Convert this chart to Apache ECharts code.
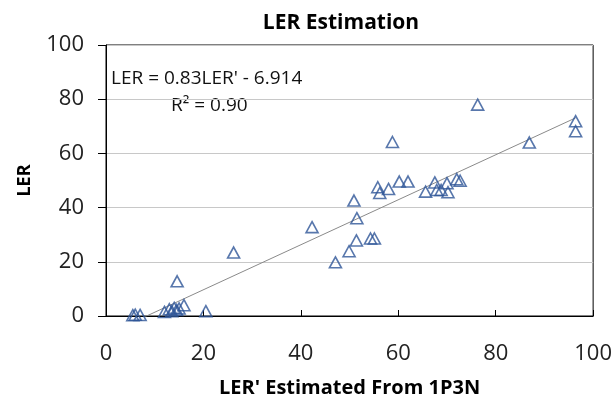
<!DOCTYPE html>
<html>
<head>
<meta charset="utf-8">
<script src="https://cdn.jsdelivr.net/npm/echarts@6/dist/echarts.min.js"></script>
<style>
html,body{margin:0;padding:0;background:#fff;}
#c{width:615px;height:403px;}
</style>
</head>
<body>
<div id="c"></div>
<script>
// Data
var estimatedLER = [5.5, 6.0, 7.0, 12.0, 13.0, 13.5, 14.0, 14.5, 15.0, 16.0, 14.6, 20.5, 26.2,
  42.3, 47.1, 49.9, 50.9, 51.4, 51.5, 54.3, 55.1, 55.8, 56.2, 58.0, 58.8, 60.2, 62.0,
  65.6, 67.5, 67.9, 68.8, 70.0, 70.2, 72.0, 72.7, 76.3, 86.9, 96.4, 96.4];
var actualLER = [0.3, 0.5, 0.4, 1.5, 2.5, 1.8, 3.0, 2.2, 2.8, 4.0, 12.8, 1.8, 23.4,
  32.8, 19.8, 23.9, 42.6, 27.9, 36.1, 28.6, 28.6, 47.5, 45.4, 46.9, 64.2, 49.6, 49.6,
  45.9, 49.3, 46.5, 46.5, 49.0, 45.7, 50.5, 49.9, 78.0, 64.0, 71.9, 68.2];
var trendSlope = 0.83;
var trendIntercept = -6.914;
var rSquared = '0.90';
var xTicks = [0, 20, 40, 60, 80, 100];
var yTicks = [0, 20, 40, 60, 80, 100];

var points = estimatedLER.map(function (x, i) { return [x, actualLER[i]]; });
var xMin = Math.min.apply(null, estimatedLER), xMax = Math.max.apply(null, estimatedLER);
var trend = [[xMin, trendSlope * xMin + trendIntercept], [xMax, trendSlope * xMax + trendIntercept]];

var FONT = 'Open Sans';
var chart = echarts.init(document.getElementById('c'), null, {renderer: 'canvas'});
chart.setOption({
  animation: false,
  backgroundColor: '#fff',
  textStyle: {fontFamily: FONT},
  title: {
    text: 'LER Estimation', left: 336, top: 8, textAlign: 'center',
    textStyle: {fontFamily: FONT, fontWeight: 'bold', fontSize: 21, color: '#000'}
  },
  grid: {left: 106, right: 18, top: 45, bottom: 86, show: true, borderColor: '#000', borderWidth: 1},
  xAxis: {
    type: 'value', min: xTicks[0], max: xTicks[xTicks.length - 1], interval: 20,
    name: "LER' Estimated From 1P3N", nameLocation: 'middle', nameGap: 62,
    nameTextStyle: {fontFamily: FONT, fontWeight: 'bold', fontSize: 20, color: '#000'},
    axisLine: {lineStyle: {color: '#000', width: 1}},
    axisTick: {show: true, inside: true, length: 6, lineStyle: {color: '#000'}},
    axisLabel: {fontSize: 22, color: '#222', margin: 27},
    splitLine: {show: false}
  },
  yAxis: {
    type: 'value', min: yTicks[0], max: yTicks[yTicks.length - 1], interval: 20,
    name: 'LER', nameLocation: 'middle', nameGap: 72, nameRotate: 90,
    nameTextStyle: {fontFamily: FONT, fontWeight: 'bold', fontSize: 18, color: '#000'},
    axisLine: {lineStyle: {color: '#000', width: 1}},
    axisTick: {show: true, inside: false, length: 8, lineStyle: {color: '#000'}},
    axisLabel: {fontSize: 22, color: '#222', margin: 22},
    splitLine: {show: true, lineStyle: {color: '#c8c8c8', width: 1}}
  },
  graphic: [
    {type: 'text', left: 111, top: 69, style: {text: "LER = 0.83LER' - 6.914", font: '19px "Open Sans"', fill: '#111'}},
    {type: 'text', left: 171, top: 96, style: {text: 'R\u00b2 = ' + rSquared, font: '19px "Open Sans"', fill: '#111'}}
  ],
  series: [
    {
      type: 'line', data: trend, symbol: 'none', silent: true, clip: true,
      lineStyle: {color: '#8a8a8a', width: 1}, z: 1
    },
    {
      type: 'scatter', data: points, symbol: 'triangle', symbolSize: [12, 11],
      itemStyle: {color: 'rgba(255,255,255,0)', borderColor: '#2e5597', borderWidth: 1.6}, z: 2
    }
  ]
});
</script>
</body>
</html>
